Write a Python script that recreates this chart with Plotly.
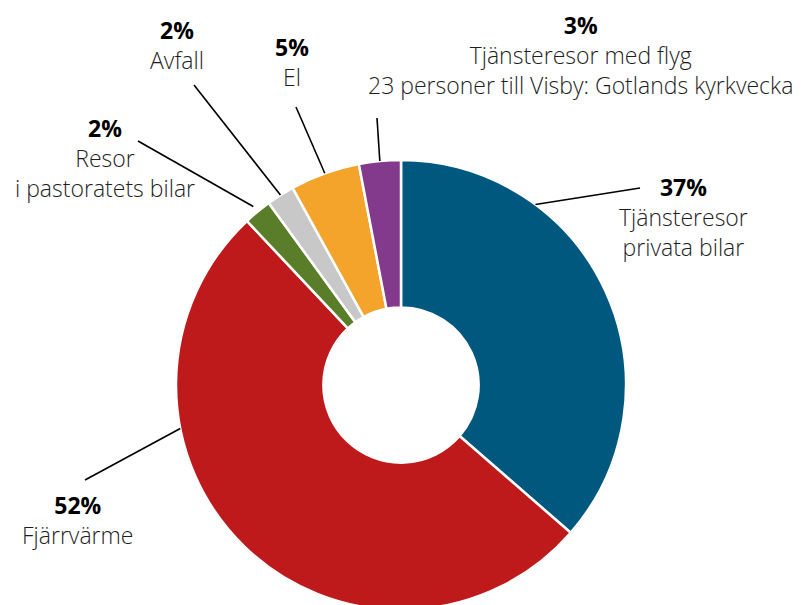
import math
import plotly.graph_objects as go

# ---- data ----
labels = ["Tjänsteresor<br>privata bilar", "Fjärrvärme", "Resor<br>i pastoratets bilar",
          "Avfall", "El", "Tjänsteresor med flyg<br>23 personer till Visby: Gotlands kyrkvecka"]
values = [36.4, 51.6, 2.0, 2.0, 5.0, 3.0]
pct_text = ["37%", "52%", "2%", "2%", "5%", "3%"]
colors = ["#00587F", "#BE1A1B", "#5A7D2A", "#C8C8C8", "#F5A42B", "#843A8C"]

# ---- layout params (page body has an 8px margin -> shift) ----
W, H = 808, 605
OFF = 8
cx, cy, R = 401 - OFF, 385 - OFF, 225     # pie centre / radius in px
attach_frac = [0.28, 0.688, 0.5, 0.5, 0.5, 0.5]
attach_r = [1.0, 1.0, 1.03, 1.0, 1.0, 1.0]
line_end = [(640, 188), (85, 480), (138, 141), (194, 85), (296, 107), (377, 118)]
text_pos = [(683, 169), (78, 487), (105, 110), (177, 12), (292, 29), (580, 7)]

fig = go.Figure(go.Pie(
    values=values, labels=labels, sort=False, direction="clockwise", rotation=0,
    hole=0.345, marker=dict(colors=colors, line=dict(color="white", width=2.5)),
    textinfo="none", hoverinfo="label+percent", showlegend=False,
    domain=dict(x=[(cx - R) / W, (cx + R) / W], y=[(H - cy - R) / H, (H - cy + R) / H]),
))

total = sum(values)
cum = 0.0
shapes, annos = [], []
for i, v in enumerate(values):
    a0 = cum / total * 360
    cum += v
    a1 = cum / total * 360
    ang = math.radians(a0 + (a1 - a0) * attach_frac[i])
    px = cx + R * attach_r[i] * math.sin(ang)
    py = cy - R * attach_r[i] * math.cos(ang)
    ex, ey = line_end[i][0] - OFF, line_end[i][1] - OFF
    shapes.append(dict(type="line", xref="paper", yref="paper",
                       x0=px / W, y0=1 - py / H, x1=ex / W, y1=1 - ey / H,
                       line=dict(color="black", width=1.6)))
    tx, ty = text_pos[i][0] - OFF, text_pos[i][1] - OFF
    annos.append(dict(
        x=tx / W, y=1 - ty / H, xref="paper", yref="paper", xanchor="center", yanchor="top",
        showarrow=False, align="center",
        text=f"<span style='font-weight:700;color:#000'>{pct_text[i]}</span><br>{labels[i]}",
        font=dict(family="Open Sans", size=23, color="#1e1e1e", weight=300),
    ))

fig.update_layout(
    width=W, height=H, margin=dict(l=0, r=0, t=0, b=0),
    paper_bgcolor="white", plot_bgcolor="white",
    shapes=shapes, annotations=annos,
)
fig.write_html("out.html")
